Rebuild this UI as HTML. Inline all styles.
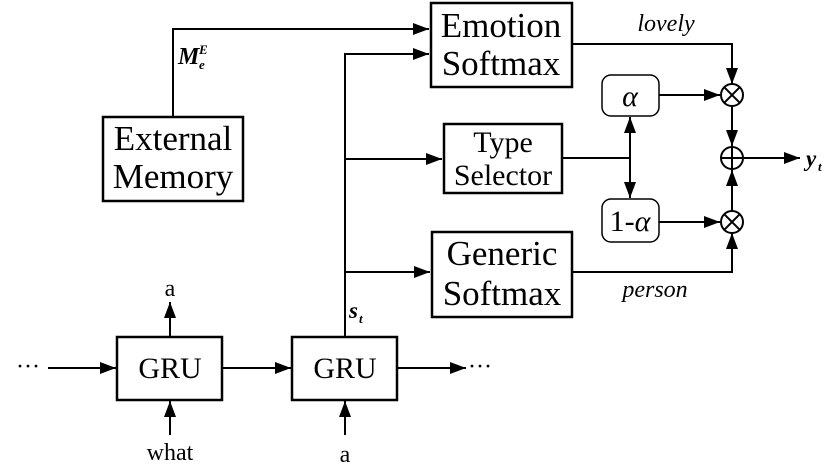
<!DOCTYPE html>
<html><head><meta charset="utf-8"><style>
html,body{margin:0;padding:0;background:#fff;}
svg{display:block;}
text{font-family:"Liberation Serif",serif;fill:#000;}
</style></head><body>
<svg width="830" height="474" viewBox="0 0 830 474" xmlns="http://www.w3.org/2000/svg">
<defs>
<marker id="ahb" markerWidth="16" markerHeight="12" refX="16" refY="6" orient="auto" markerUnits="userSpaceOnUse">
<path d="M0,0 L16,6 L0,12 z" fill="#000"/></marker>
</defs>
<g stroke="#000" stroke-width="2.5" fill="none">
<rect x="431" y="3" width="141" height="84"/>
<rect x="103" y="117" width="140" height="84"/>
<rect x="444" y="124" width="118" height="69"/>
<rect x="432" y="232" width="140" height="85"/>
<rect x="117" y="337" width="105" height="63"/>
<rect x="292" y="337" width="105" height="63"/>
</g>
<g stroke="#000" stroke-width="1.5" fill="none">
<rect x="602" y="75" width="57" height="41" rx="9"/>
<rect x="602" y="199" width="57" height="43" rx="9"/>
</g>
<g stroke="#000" stroke-width="2" fill="none">
<polyline points="173,117 173,29 429,29" marker-end="url(#ahb)"/>
<polyline points="345,337 345,54 429,54" marker-end="url(#ahb)"/>
<line x1="345" y1="159" x2="442" y2="159" marker-end="url(#ahb)"/>
<line x1="345" y1="272" x2="430" y2="272" marker-end="url(#ahb)"/>
<polyline points="572,44 732,44 732,84" marker-end="url(#ahb)"/>
<polyline points="572,272 732,272 732,233" marker-end="url(#ahb)"/>
<line x1="562" y1="158" x2="630" y2="158"/>
<line x1="630" y1="158" x2="630" y2="117" marker-end="url(#ahb)"/>
<line x1="630" y1="158" x2="630" y2="198" marker-end="url(#ahb)"/>
<line x1="659" y1="95" x2="720" y2="95" marker-end="url(#ahb)"/>
<line x1="659" y1="222" x2="720" y2="222" marker-end="url(#ahb)"/>
<line x1="732" y1="107" x2="732" y2="146" marker-end="url(#ahb)"/>
<line x1="732" y1="211" x2="732" y2="170" marker-end="url(#ahb)"/>
<line x1="744" y1="158" x2="800" y2="158" marker-end="url(#ahb)"/>
<circle cx="732" cy="95" r="11"/>
<line x1="724.2" y1="87.2" x2="739.8" y2="102.8"/><line x1="739.8" y1="87.2" x2="724.2" y2="102.8"/>
<circle cx="732" cy="158" r="11"/>
<line x1="721" y1="158" x2="743" y2="158"/><line x1="732" y1="147" x2="732" y2="169"/>
<circle cx="732" cy="222" r="11"/>
<line x1="724.2" y1="214.2" x2="739.8" y2="229.8"/><line x1="739.8" y1="214.2" x2="724.2" y2="229.8"/>
<line x1="48" y1="368" x2="116" y2="368" marker-end="url(#ahb)"/>
<line x1="222" y1="368" x2="291" y2="368" marker-end="url(#ahb)"/>
<line x1="397" y1="368" x2="466" y2="368" marker-end="url(#ahb)"/>
<line x1="170" y1="337" x2="170" y2="302" marker-end="url(#ahb)"/>
<line x1="170" y1="435" x2="170" y2="401" marker-end="url(#ahb)"/>
<line x1="345" y1="435" x2="345" y2="401" marker-end="url(#ahb)"/>
</g>
<g font-size="35" text-anchor="middle">
<text x="501" y="37">Emotion</text>
<text x="501" y="75">Softmax</text>
<text x="173" y="150">External</text>
<text x="173" y="188">Memory</text>
<text x="502" y="265">Generic</text>
<text x="502" y="305">Softmax</text>
</g>
<g font-size="30" text-anchor="middle">
<text x="503" y="152">Type</text>
<text x="503" y="185">Selector</text>
<text x="170" y="378">GRU</text>
<text x="345" y="378">GRU</text>
<text x="630" y="106" font-style="italic">α</text>
<text x="630" y="231">1-<tspan font-style="italic">α</tspan></text>
</g>
<g font-size="24" text-anchor="middle">
<text x="170" y="296">a</text>
<text x="170" y="460">what</text>
<text x="345" y="462">a</text>
<text x="28" y="374">···</text>
<text x="480" y="374">···</text>
<text x="666" y="31" font-style="italic">lovely</text>
<text x="655" y="297" font-style="italic">person</text>
</g>
<text x="178" y="64" font-size="24" font-weight="bold" font-style="italic">M</text>
<text x="199" y="69" font-size="13" font-weight="bold" font-style="italic">e</text>
<text x="199" y="54" font-size="13" font-weight="bold" font-style="italic">E</text>
<text x="349" y="318" font-size="23" font-weight="bold" font-style="italic">s</text>
<text x="359" y="323" font-size="13" font-weight="bold" font-style="italic">t</text>
<text x="806" y="166" font-size="23" font-weight="bold" font-style="italic">y</text>
<text x="818" y="171" font-size="13" font-weight="bold" font-style="italic">t</text>
</svg>
</body></html>
